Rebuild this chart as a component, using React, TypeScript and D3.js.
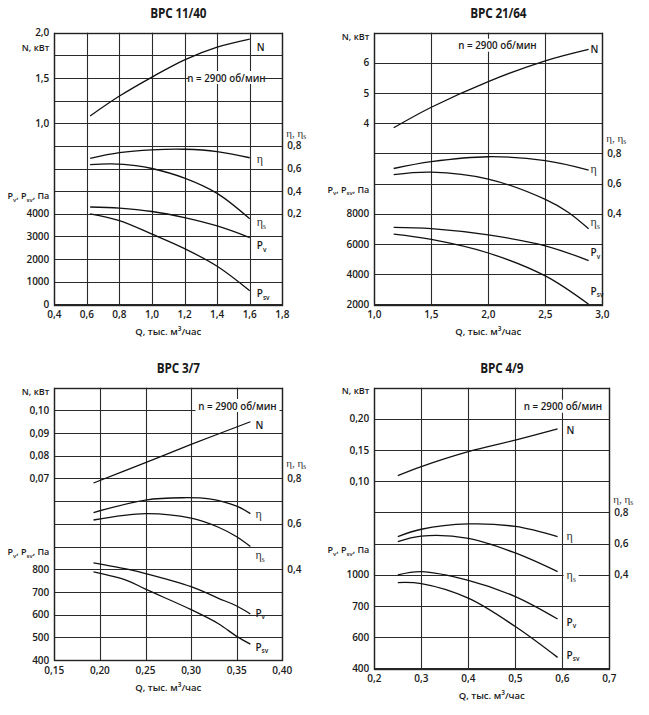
import React from "react";
import * as d3 from "d3";

// ---------- DATA ----------
// Panel 1: ВРС 11/40
const p1XTicks = [0.4, 0.6, 0.8, 1.0, 1.2, 1.4, 1.6, 1.8];
const p1NTicks = [2.0, 1.5, 1.0];
const p1EtaTicks = [0.8, 0.6, 0.4, 0.2];
const p1PTicks = [4000, 3000, 2000, 1000, 0];
const p1N: [number, number][] = [[0.62, 1.08], [0.8, 1.3], [1.0, 1.51], [1.2, 1.7], [1.4, 1.84], [1.6, 1.93]];
const p1Eta: [number, number][] = [[0.62, 0.69], [0.8, 0.74], [1.0, 0.765], [1.2, 0.77], [1.4, 0.75], [1.6, 0.695]];
const p1EtaS: [number, number][] = [[0.62, 0.635], [0.75, 0.64], [0.9, 0.625], [1.0, 0.6], [1.2, 0.515], [1.4, 0.38], [1.6, 0.155]];
const p1Pv: [number, number][] = [[0.62, 4300], [0.8, 4250], [1.0, 4100], [1.2, 3830], [1.4, 3460], [1.6, 2950]];
const p1Psv: [number, number][] = [[0.62, 4000], [0.8, 3700], [1.0, 3100], [1.2, 2460], [1.4, 1680], [1.6, 600]];

// Panel 2: ВРС 21/64
const p2XTicks = [1.0, 1.5, 2.0, 2.5, 3.0];
const p2NTicks = [6, 5, 4];
const p2EtaTicks = [0.8, 0.6, 0.4];
const p2PTicks = [8000, 6000, 4000, 2000];
const p2N: [number, number][] = [[1.17, 3.85], [1.5, 4.53], [2.0, 5.38], [2.5, 6.07], [2.88, 6.45]];
const p2Eta: [number, number][] = [[1.17, 0.7], [1.5, 0.745], [2.0, 0.778], [2.5, 0.752], [2.88, 0.69]];
const p2EtaS: [number, number][] = [[1.17, 0.66], [1.5, 0.676], [2.0, 0.63], [2.5, 0.495], [2.7, 0.41], [2.88, 0.3]];
const p2Pv: [number, number][] = [[1.17, 7100], [1.5, 7020], [2.0, 6600], [2.5, 5880], [2.88, 4900]];
const p2Psv: [number, number][] = [[1.17, 6650], [1.5, 6300], [2.0, 5400], [2.5, 3880], [2.88, 2000]];

// Panel 3: ВРС 3/7
const p3XTicks = [0.15, 0.2, 0.25, 0.3, 0.35, 0.4];
const p3NTicks = [0.1, 0.09, 0.08, 0.07];
const p3EtaTicks = [0.8, 0.6, 0.4];
const p3PTicks = [800, 700, 600, 500, 400];
const p3N: [number, number][] = [[0.193, 0.068], [0.25, 0.077], [0.3, 0.085], [0.365, 0.095]];
const p3Eta: [number, number][] = [[0.193, 0.65], [0.25, 0.705], [0.29, 0.715], [0.32, 0.71], [0.35, 0.678], [0.365, 0.645]];
const p3EtaS: [number, number][] = [[0.193, 0.617], [0.25, 0.645], [0.3, 0.625], [0.33, 0.585], [0.35, 0.543], [0.365, 0.5]];
const p3Pv: [number, number][] = [[0.193, 828], [0.23, 800], [0.25, 781], [0.3, 723], [0.33, 672], [0.35, 638], [0.365, 603]];
const p3Psv: [number, number][] = [[0.193, 788], [0.23, 750], [0.25, 712], [0.3, 622], [0.33, 560], [0.35, 504], [0.365, 470]];

// Panel 4: ВРС 4/9
const p4XTicks = [0.2, 0.3, 0.4, 0.5, 0.6, 0.7];
const p4NTicks = [0.2, 0.15, 0.1];
const p4EtaTicks = [0.8, 0.6, 0.4];
const p4PTicks = [1000, 700, 600, 400];
const p4N: [number, number][] = [[0.25, 0.109], [0.3, 0.1235], [0.4, 0.1475], [0.5, 0.166], [0.59, 0.184]];
const p4Eta: [number, number][] = [[0.25, 0.645], [0.3, 0.692], [0.4, 0.726], [0.5, 0.71], [0.59, 0.645]];
const p4EtaS: [number, number][] = [[0.25, 0.612], [0.3, 0.648], [0.4, 0.634], [0.5, 0.54], [0.59, 0.42]];
const p4Pv: [number, number][] = [[0.25, 998], [0.3, 1030], [0.4, 945], [0.5, 790], [0.59, 658]];
const p4Psv: [number, number][] = [[0.25, 925], [0.3, 915], [0.4, 775], [0.5, 634], [0.59, 470]];

const titles = ["ВРС 11/40", "ВРС 21/64", "ВРС 3/7", "ВРС 4/9"];
const speedLabel = "n = 2900 об/мин";

// ---------- RENDER ----------
const loc = d3.formatLocale({ decimal: ",", thousands: "", grouping: [3], currency: ["", ""] });
const FONT = "'Open Sans', 'Noto Sans', sans-serif";
const SERIF = "'Liberation Serif', 'DejaVu Serif', serif";
const INK = "#1a1a1a";

type Pt = [number, number];
type Cfg = {
  title: string;
  left: number; right: number; top: number; bottom: number; rows: number;
  xTicks: number[]; xFmt: string;
  nTicks: number[]; nDomain: number[]; nRows: number[]; nFmt: string;
  etaTicks: number[]; etaDomain: number[]; etaRows: number[];
  pTicks: number[]; pDomain: number[]; pRows: number[];
  N: Pt[]; Eta: Pt[]; EtaS: Pt[]; Pv: Pt[]; Psv: Pt[];
  nLabelY: number; pLabelY: number; etaHeadY: number;
  box: { x: number; y: number; w: number };
  ldx: number; ldy: number[]; etaSBox?: boolean;
};

function Panel({ c }: { c: Cfg }) {
  const x = d3.scaleLinear().domain([c.xTicks[0], c.xTicks[c.xTicks.length - 1]]).range([c.left, c.right]);
  const yRow = d3.scaleLinear().domain([0, c.rows]).range([c.top, c.bottom]);
  const yN = d3.scaleLinear().domain(c.nDomain).range(c.nRows.map(yRow));
  const yE = d3.scaleLinear().domain(c.etaDomain).range(c.etaRows.map(yRow));
  const yP = d3.scaleLinear().domain(c.pDomain).range(c.pRows.map(yRow));
  const px = (v: number) => Math.round(v) + 0.5;
  const xf = loc.format(c.xFmt);
  const nf = loc.format(c.nFmt);
  const ef = loc.format(".1f");
  const pf = loc.format("d");
  const mk = (s: d3.ScaleLinear<number, number>) =>
    d3.line<Pt>().x((d) => x(d[0])).y((d) => s(d[1])).curve(d3.curveCatmullRom.alpha(0.5));
  const curves: { d: Pt[]; s: d3.ScaleLinear<number, number> }[] = [
    { d: c.N, s: yN }, { d: c.Eta, s: yE }, { d: c.EtaS, s: yE }, { d: c.Pv, s: yP }, { d: c.Psv, s: yP },
  ];
  const ends = curves.map((cv) => {
    const l = cv.d[cv.d.length - 1];
    return [x(l[0]), cv.s(l[1])];
  });
  const rowsArr = d3.range(0, c.rows + 1);
  const midX = (c.left + c.right) / 2 + 10;
  const lblX = (i: number) => ends[i][0] + c.ldx;
  const lblY = (i: number) => ends[i][1] + c.ldy[i];
  const tickStyle = { fontFamily: FONT, fontSize: 10, fontWeight: 600, fill: INK } as const;
  return (
    <g>
      <text transform={`translate(${midX},${c.top - 14.5}) scale(0.84,1)`} textAnchor="middle" style={{ fontFamily: FONT, fontSize: 14, fontWeight: 700, fill: INK, letterSpacing: -0.2 }}>
        {c.title}
      </text>
      {rowsArr.map((r) => (
        <line key={"h" + r} x1={c.left} x2={c.right} y1={px(yRow(r))} y2={px(yRow(r))} stroke="#2a2a2a" strokeWidth={1.1} />
      ))}
      {c.xTicks.map((t) => (
        <line key={"v" + t} x1={px(x(t))} x2={px(x(t))} y1={c.top} y2={c.bottom} stroke="#2a2a2a" strokeWidth={1.1} />
      ))}
      <rect x={px(c.left)} y={px(c.top)} width={Math.round(c.right - c.left)} height={Math.round(c.bottom - c.top)} fill="none" stroke="#222" strokeWidth={1.4} />
      {/* speed label */}
      <rect x={c.box.x - c.box.w / 2} y={c.box.y - 7} width={c.box.w} height={13} fill="#fff" />
      <text x={c.box.x} y={c.box.y + 3.5} textAnchor="middle" style={{ ...tickStyle, fontSize: 9.8 }}>{speedLabel}</text>
      {/* x ticks */}
      {c.xTicks.map((t) => (
        <text key={"xt" + t} x={x(t)} y={c.bottom + 14} textAnchor="middle" style={tickStyle}>{xf(t)}</text>
      ))}
      <text x={(c.left + c.right) / 2} y={c.bottom + 31} textAnchor="middle" style={{ ...tickStyle, fontSize: 9.5 }}>
        Q, тыс. м<tspan dy={-4} fontSize={6.5}>3</tspan><tspan dy={4}>/час</tspan>
      </text>
      {/* left N ticks */}
      {c.nTicks.map((t) => (
        <text key={"nt" + t} x={c.left - 5} y={yN(t) + 3.6} textAnchor="end" style={tickStyle}>{nf(t)}</text>
      ))}
      <text x={c.left - 5} y={c.nLabelY + 3.3} textAnchor="end" style={{ ...tickStyle, fontSize: 9 }}>N, кВт</text>
      {/* left P ticks */}
      {c.pTicks.map((t) => (
        <text key={"pt" + t} x={c.left - 5} y={yP(t) + 3.6} textAnchor="end" style={tickStyle}>{pf(t)}</text>
      ))}
      <text x={c.left - 5} y={c.pLabelY + 3.3} textAnchor="end" style={{ ...tickStyle, fontSize: 9 }}>
        P<tspan dy={2.5} fontSize={6}>v</tspan><tspan dy={-2.5}>, P</tspan><tspan dy={2.5} fontSize={6}>sv</tspan><tspan dy={-2.5}>, Па</tspan>
      </text>
      {/* right eta ticks */}
      {c.etaTicks.map((t) => (
        <text key={"et" + t} x={c.right + 5} y={yE(t) + 3.6} textAnchor="start" style={tickStyle}>{ef(t)}</text>
      ))}
      <text x={c.right + 4} y={c.etaHeadY + 3.5} textAnchor="start" style={{ fontFamily: SERIF, fontSize: 11, fill: "#333" }}>
        η, η<tspan dy={2.5} fontSize={7.5}>s</tspan>
      </text>
      {/* curves */}
      {curves.map((cv, i) => (
        <path key={"c" + i} d={mk(cv.s)(cv.d) || ""} fill="none" stroke="#111" strokeWidth={1.3} />
      ))}
      {/* curve labels */}
      <text x={lblX(0)} y={lblY(0) + 3.6} style={tickStyle}>N</text>
      <text x={lblX(1)} y={lblY(1) + 3.5} style={{ fontFamily: SERIF, fontSize: 12, fill: "#333" }}>η</text>
      {c.etaSBox && <rect x={lblX(2) - 3} y={lblY(2) - 6} width={15} height={13} fill="#fff" />}
      <text x={lblX(2)} y={lblY(2) + 3.5} style={{ fontFamily: SERIF, fontSize: 12, fill: "#333" }}>
        η<tspan dy={2.5} fontSize={7.5}>s</tspan>
      </text>
      <text x={lblX(3)} y={lblY(3) + 3.6} style={tickStyle}>
        P<tspan dy={2.5} fontSize={6.5}>v</tspan>
      </text>
      <text x={lblX(4)} y={lblY(4) + 3.6} style={tickStyle}>
        P<tspan dy={2.5} fontSize={6.5}>sv</tspan>
      </text>
    </g>
  );
}

const configs: Cfg[] = [
  {
    title: titles[0], left: 54.3, right: 282.3, top: 32.7, bottom: 304.3, rows: 12,
    xTicks: p1XTicks, xFmt: ".1f",
    nTicks: p1NTicks, nDomain: [p1NTicks[0], p1NTicks[2]], nRows: [0, 4], nFmt: ".1f",
    etaTicks: p1EtaTicks, etaDomain: [p1EtaTicks[0], p1EtaTicks[3]], etaRows: [5, 8],
    pTicks: p1PTicks, pDomain: [p1PTicks[0], p1PTicks[4]], pRows: [8, 12],
    N: p1N, Eta: p1Eta, EtaS: p1EtaS, Pv: p1Pv, Psv: p1Psv,
    nLabelY: 47.7, pLabelY: 196, etaHeadY: 133,
    box: { x: 226.5, y: 78, w: 76 },
    ldx: 7, ldy: [8, 2, 4, 8, 3],
  },
  {
    title: titles[1], left: 374.3, right: 602.3, top: 32.7, bottom: 304.3, rows: 9,
    xTicks: p2XTicks, xFmt: ".1f",
    nTicks: p2NTicks, nDomain: [p2NTicks[0], p2NTicks[2]], nRows: [1, 3], nFmt: "d",
    etaTicks: p2EtaTicks, etaDomain: [p2EtaTicks[0], p2EtaTicks[2]], etaRows: [4, 6],
    pTicks: p2PTicks, pDomain: [p2PTicks[0], p2PTicks[3]], pRows: [6, 9],
    N: p2N, Eta: p2Eta, EtaS: p2EtaS, Pv: p2Pv, Psv: p2Psv,
    nLabelY: 36.3, pLabelY: 189.3, etaHeadY: 138,
    box: { x: 497.5, y: 45.7, w: 78 },
    ldx: 2, ldy: [0, -1, -6, -8, -13],
  },
  {
    title: titles[2], left: 54.3, right: 282.3, top: 387.7, bottom: 660, rows: 12,
    xTicks: p3XTicks, xFmt: ".2f",
    nTicks: p3NTicks, nDomain: [p3NTicks[0], p3NTicks[3]], nRows: [1, 4], nFmt: ".2f",
    etaTicks: p3EtaTicks, etaDomain: [p3EtaTicks[0], p3EtaTicks[2]], etaRows: [4, 8],
    pTicks: p3PTicks, pDomain: [p3PTicks[0], p3PTicks[4]], pRows: [8, 12],
    N: p3N, Eta: p3Eta, EtaS: p3EtaS, Pv: p3Pv, Psv: p3Psv,
    nLabelY: 391.7, pLabelY: 551.7, etaHeadY: 463,
    box: { x: 237.5, y: 406, w: 84 },
    ldx: 5, ldy: [4, 1, 9, -1, 3],
  },
  {
    title: titles[3], left: 374.3, right: 609.3, top: 387.7, bottom: 668.3, rows: 9,
    xTicks: p4XTicks, xFmt: ".1f",
    nTicks: p4NTicks, nDomain: [p4NTicks[0], p4NTicks[2]], nRows: [1, 3], nFmt: ".2f",
    etaTicks: p4EtaTicks, etaDomain: [p4EtaTicks[0], p4EtaTicks[2]], etaRows: [4, 6],
    pTicks: p4PTicks, pDomain: p4PTicks, pRows: [6, 7, 8, 9],
    N: p4N, Eta: p4Eta, EtaS: p4EtaS, Pv: p4Pv, Psv: p4Psv,
    nLabelY: 391, pLabelY: 550, etaHeadY: 499,
    box: { x: 563, y: 406.7, w: 78 },
    ldx: 9, ldy: [2, 0, 4, 3, -2], etaSBox: true,
  },
];

export default function App() {
  return (
    <svg width={649} height={715} viewBox="0 0 649 715" style={{ position: "absolute", left: 0, top: 0, background: "#fff" }}>
      <rect x={0} y={0} width={649} height={715} fill="#fff" />
      {configs.map((c, i) => (
        <Panel key={i} c={c} />
      ))}
    </svg>
  );
}
